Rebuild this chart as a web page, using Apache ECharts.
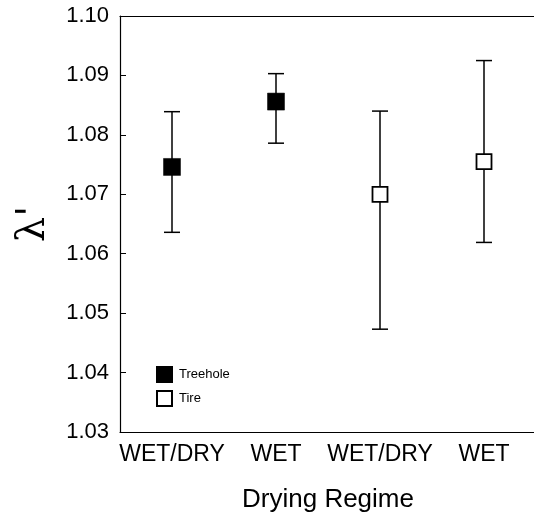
<!DOCTYPE html>
<html>
<head>
<meta charset="utf-8">
<script src="https://cdn.jsdelivr.net/npm/echarts@6/dist/echarts.min.js"></script>
<style>
  html, body { margin: 0; padding: 0; background: #fff; }
  #chart { width: 534px; height: 515px; }
</style>
</head>
<body>
<div id="chart"></div>
<script>
// Drying regime groups along the x axis
const categories = ['WET/DRY', 'WET', 'WET/DRY', 'WET'];

// Treehole populations (first two groups): mean and error-bar limits
const treeholeMean = [1.0746, 1.0856, null, null];
const treeholeLow  = [1.0636, 1.0786, null, null];
const treeholeHigh = [1.0839, 1.0903, null, null];

// Tire populations (last two groups)
const tireMean = [null, null, 1.0700, 1.0755];
const tireLow  = [null, null, 1.0473, 1.0619];
const tireHigh = [null, null, 1.0840, 1.0925];

// Y axis range and step
const yMin = 1.03, yMax = 1.10, yStep = 0.01;

const FONT = 'Liberation Sans, Arial, Helvetica, sans-serif';

function barData(low, high) {
  const out = [];
  for (let i = 0; i < categories.length; i++) {
    if (low[i] != null) out.push([i, low[i], high[i]]);
  }
  return out;
}

function errorBars(params, api) {
  const x = api.value(0);
  const lo = api.coord([x, api.value(1)]);
  const hi = api.coord([x, api.value(2)]);
  const half = 8;
  const style = { stroke: '#000', lineWidth: 1.5, fill: null };
  return {
    type: 'group',
    children: [
      { type: 'line', shape: { x1: lo[0], y1: lo[1], x2: hi[0], y2: hi[1] }, style },
      { type: 'line', shape: { x1: hi[0] - half, y1: hi[1], x2: hi[0] + half, y2: hi[1] }, style },
      { type: 'line', shape: { x1: lo[0] - half, y1: lo[1], x2: lo[0] + half, y2: lo[1] }, style }
    ]
  };
}

const chart = echarts.init(document.getElementById('chart'), null, { renderer: 'canvas' });

chart.setOption({
  animation: false,
  backgroundColor: '#fff',
  grid: { left: 120, top: 16, width: 416, bottom: 83, containLabel: false, outerBoundsMode: 'none' },
  legend: {
    left: 151, top: 361, orient: 'vertical', itemGap: 7,
    itemWidth: 15, itemHeight: 15, icon: 'rect',
    textStyle: { fontFamily: FONT, fontSize: 13, color: '#000', padding: [0, 0, 0, 2] },
    data: ['Treehole', 'Tire']
  },
  xAxis: [
    {
      type: 'category',
      data: categories,
      boundaryGap: true,
      axisLine: { lineStyle: { color: '#000', width: 1.2 } },
      axisTick: { inside: true, alignWithLabel: true, length: 3, lineStyle: { color: '#000' } },
      axisLabel: { fontFamily: FONT, fontSize: 23, color: '#000', margin: 11, interval: 0, hideOverlap: false },
      splitLine: { show: false },
      name: 'Drying Regime',
      nameLocation: 'middle',
      nameGap: 55,
      nameTextStyle: { fontFamily: FONT, fontSize: 26, color: '#000' }
    },
    {
      // plain frame line along the top edge
      type: 'category',
      data: categories,
      position: 'top',
      axisLine: { show: true, lineStyle: { color: '#000', width: 1.2 } },
      axisTick: { show: false },
      axisLabel: { show: false },
      splitLine: { show: false }
    }
  ],
  yAxis: {
    type: 'value',
    min: yMin, max: yMax, interval: yStep,
    axisLine: { show: true, lineStyle: { color: '#000', width: 1.2 } },
    axisTick: { show: true, inside: true, length: 6, lineStyle: { color: '#000' } },
    axisLabel: {
      fontFamily: FONT, fontSize: 22, color: '#000', margin: 11,
      formatter: v => v.toFixed(2)
    },
    splitLine: { show: false },
    name: "λ'",
    nameLocation: 'middle',
    nameRotate: 90,
    nameGap: 66,
    nameTextStyle: { fontFamily: 'DejaVu Serif, serif', fontSize: 40, color: '#000' }
  },
  series: [
    {
      name: 'Treehole bars', type: 'custom', renderItem: errorBars,
      data: barData(treeholeLow, treeholeHigh), encode: { x: 0, y: [1, 2] }, z: 1
    },
    {
      name: 'Tire bars', type: 'custom', renderItem: errorBars,
      data: barData(tireLow, tireHigh), encode: { x: 0, y: [1, 2] }, z: 1
    },
    {
      name: 'Treehole', type: 'scatter', symbol: 'rect', symbolSize: 17,
      itemStyle: { color: '#000', borderColor: '#000', borderWidth: 0.5, opacity: 1 },
      data: treeholeMean, z: 3
    },
    {
      name: 'Tire', type: 'scatter', symbol: 'rect', symbolSize: 15,
      itemStyle: { color: '#fff', borderColor: '#000', borderWidth: 1.8, opacity: 1 },
      data: tireMean, z: 3
    }
  ]
});
</script>
</body>
</html>
